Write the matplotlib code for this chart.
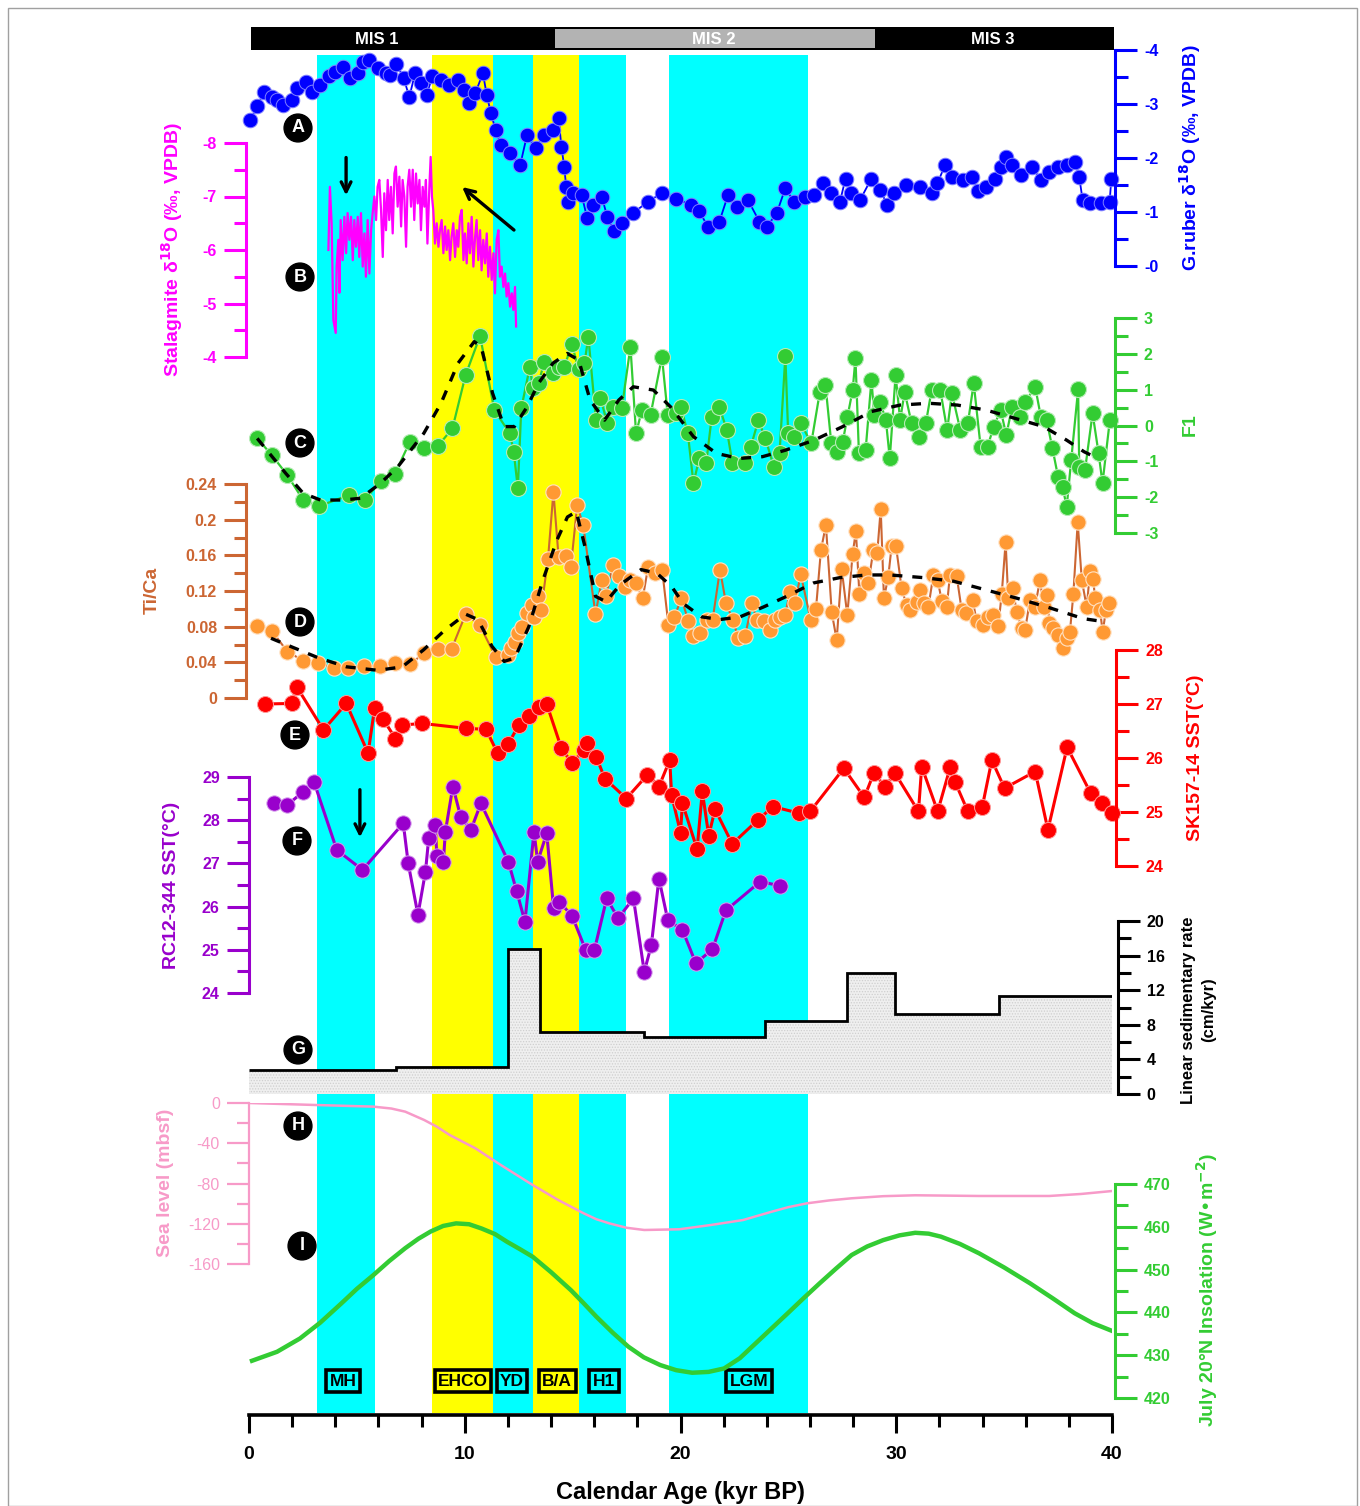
import numpy as np
import matplotlib.pyplot as plt
from matplotlib.patches import Rectangle
from matplotlib.ticker import MultipleLocator

W, H = 1360, 1506
plt.rcParams['font.family'] = ['Liberation Sans', 'DejaVu Sans']
plt.rcParams['font.weight'] = 'bold'
plt.rcParams['hatch.color'] = '#cfcfcf'
plt.rcParams['hatch.linewidth'] = 0.6
NARROW = ['Liberation Sans Narrow', 'Liberation Sans', 'DejaVu Sans']

# ---- climate intervals (kyr BP) ----
cold_bands = [(3.17, 5.84), (11.32, 13.15), (15.31, 17.49), (19.46, 25.92)]
warm_bands = [(8.50, 11.32), (13.15, 15.31)]
mis_edges = [0.1, 14.2, 29.0, 40.1]
mis_names = ['MIS 1', 'MIS 2', 'MIS 3']
mis_label_x = [5.9, 21.55, 34.45]
events = ['MH', 'EHCO', 'YD', 'B/A', 'H1', 'LGM']
event_x = [4.36, 9.92, 12.19, 14.28, 16.45, 23.17]

# ---- A: G. ruber d18O ----
gruber = np.array([
    (0.06, -2.70), (0.38, -2.96), (0.70, -3.23), (1.05, -3.13), (1.31, -3.07), (1.58, -2.98),
    (1.98, -3.07), (2.24, -3.29), (2.64, -3.41), (2.91, -3.23), (3.31, -3.35), (3.71, -3.51),
    (3.97, -3.60), (4.37, -3.69), (4.69, -3.48), (5.04, -3.57), (5.30, -3.78), (5.57, -3.81),
    (5.97, -3.66), (6.37, -3.57), (6.55, -3.54), (6.82, -3.75), (7.17, -3.48), (7.43, -3.13),
    (7.70, -3.57), (7.96, -3.38), (8.23, -3.17), (8.50, -3.51), (8.90, -3.44), (9.29, -3.35),
    (9.69, -3.44), (9.96, -3.26), (10.22, -3.01), (10.49, -3.20), (10.84, -3.57), (11.02, -3.17),
    (11.21, -2.83), (11.43, -2.52), (11.69, -2.24), (12.09, -2.09), (12.57, -1.87), (12.89, -2.43),
    (13.28, -2.18), (13.68, -2.43), (14.08, -2.52), (14.35, -2.74), (14.48, -2.21), (14.61, -1.84),
    (14.70, -1.47), (14.80, -1.19), (15.02, -1.35), (15.42, -1.31), (15.68, -0.88), (15.94, -1.13),
    (16.35, -1.28), (16.61, -0.91), (16.93, -0.64), (17.28, -0.79), (17.81, -0.98), (18.48, -1.19),
    (19.14, -1.35), (19.81, -1.25), (20.47, -1.13), (20.87, -1.01), (21.27, -0.73), (21.80, -0.82),
    (22.20, -1.31), (22.60, -1.10), (23.13, -1.22), (23.66, -0.82), (24.01, -0.73), (24.46, -0.98),
    (24.86, -1.44), (25.26, -1.19), (25.79, -1.28), (26.19, -1.31), (26.59, -1.53), (26.99, -1.35),
    (27.39, -1.19), (27.65, -1.62), (27.92, -1.35), (28.32, -1.22), (28.85, -1.62), (29.25, -1.41),
    (29.59, -1.13), (29.91, -1.35), (30.45, -1.50), (31.11, -1.47), (31.64, -1.35), (31.91, -1.53),
    (32.26, -1.87), (32.58, -1.65), (33.11, -1.59), (33.51, -1.65), (33.78, -1.38), (34.17, -1.47),
    (34.57, -1.62), (34.84, -1.84), (35.10, -2.02), (35.37, -1.87), (35.77, -1.68), (36.30, -1.84),
    (36.70, -1.59), (37.10, -1.75), (37.50, -1.84), (37.90, -1.87), (38.30, -1.93), (38.48, -1.65),
    (38.64, -1.22), (38.96, -1.17), (39.49, -1.17), (39.89, -1.19), (39.97, -1.62)])

# ---- B: stalagmite d18O ----
stalagmite = np.array([
    (3.68, -6.00), (3.75, -7.18), (3.83, -6.50), (3.91, -4.69), (4.02, -4.45), (4.06, -5.69),
    (4.14, -6.19), (4.19, -5.20), (4.25, -6.56), (4.34, -5.81), (4.42, -6.62), (4.50, -5.94),
    (4.57, -6.69), (4.65, -6.19), (4.73, -6.62), (4.81, -5.81), (4.88, -6.56), (4.96, -6.06),
    (5.04, -6.62), (5.11, -5.87), (5.19, -6.69), (5.27, -5.69), (5.35, -6.31), (5.42, -5.50),
    (5.50, -6.56), (5.58, -5.56), (5.66, -6.37), (5.73, -6.69), (5.81, -7.00), (5.89, -6.56),
    (5.96, -7.18), (6.04, -7.31), (6.12, -6.75), (6.20, -5.87), (6.27, -7.06), (6.35, -6.37),
    (6.43, -7.31), (6.50, -6.56), (6.58, -7.18), (6.66, -6.31), (6.74, -7.43), (6.81, -7.56),
    (6.89, -6.81), (6.97, -7.37), (7.05, -6.44), (7.12, -7.31), (7.20, -7.00), (7.28, -6.06),
    (7.35, -7.18), (7.43, -7.50), (7.51, -6.81), (7.59, -7.50), (7.66, -6.56), (7.74, -7.43),
    (7.82, -6.87), (7.90, -7.31), (7.97, -6.37), (8.05, -7.18), (8.13, -6.81), (8.20, -7.31),
    (8.27, -6.12), (8.36, -7.18), (8.42, -7.74), (8.48, -7.00), (8.54, -6.75), (8.62, -6.12),
    (8.70, -6.50), (8.78, -6.06), (8.85, -6.37), (8.93, -6.56), (9.01, -5.94), (9.09, -6.44),
    (9.16, -6.00), (9.24, -6.37), (9.32, -5.81), (9.39, -6.25), (9.47, -6.50), (9.55, -5.87),
    (9.63, -6.37), (9.70, -6.06), (9.78, -6.62), (9.86, -6.75), (9.94, -5.81), (10.01, -6.31),
    (10.09, -5.75), (10.17, -6.50), (10.24, -5.94), (10.32, -6.62), (10.40, -5.69), (10.48, -6.25),
    (10.55, -6.56), (10.63, -5.81), (10.71, -6.37), (10.78, -5.62), (10.86, -6.19), (10.94, -5.75),
    (11.02, -6.31), (11.09, -5.50), (11.17, -6.06), (11.25, -5.44), (11.33, -5.94), (11.40, -5.19),
    (11.48, -6.19), (11.56, -6.37), (11.63, -5.50), (11.71, -5.69), (11.79, -5.31), (11.87, -5.56),
    (11.94, -5.13), (12.02, -5.38), (12.10, -4.94), (12.18, -5.19), (12.25, -4.88), (12.33, -5.31),
    (12.38, -4.57)])

# ---- C: F1 factor scores and trend ----
f1 = np.array([
    (0.38, -0.36), (1.05, -0.82), (1.77, -1.38), (2.51, -2.08), (3.25, -2.25), (4.64, -1.94),
    (5.36, -2.08), (6.10, -1.55), (6.77, -1.34), (7.46, -0.45), (8.10, -0.64), (8.76, -0.57),
    (9.43, -0.08), (10.04, 1.41), (10.71, 2.50), (11.37, 0.43), (12.09, -0.22), (12.27, -0.73),
    (12.46, -1.75), (12.62, 0.48), (13.02, 1.64), (13.15, 1.04), (13.42, 1.18), (13.69, 1.78),
    (14.09, 1.46), (14.35, 1.64), (14.62, 1.64), (14.96, 2.27), (15.28, 1.57), (15.55, 1.74),
    (15.73, 2.48), (16.08, 0.15), (16.29, 0.76), (16.61, 0.06), (16.88, 0.52), (17.28, 0.48),
    (17.68, 2.20), (17.94, -0.22), (18.21, 0.43), (18.61, 0.29), (19.14, 1.92), (19.41, 0.29),
    (19.81, 0.34), (20.02, 0.52), (20.34, -0.22), (20.60, -1.61), (20.87, -0.92), (21.19, -1.06),
    (21.45, 0.25), (21.80, 0.52), (22.15, -0.13), (22.41, -1.06), (23.00, -1.06), (23.26, -0.59),
    (23.61, 0.15), (23.93, -0.36), (24.33, -1.15), (24.59, -0.78), (24.86, 1.94), (24.99, -0.22),
    (25.26, -0.31), (25.58, 0.06), (26.06, -0.50), (26.46, 0.94), (26.72, 1.13), (26.99, -0.50),
    (27.25, -0.73), (27.52, -0.45), (27.74, 0.25), (27.98, 0.99), (28.11, 1.87), (28.27, -0.78),
    (28.58, -0.69), (28.85, 1.27), (28.98, 0.29), (29.25, 0.66), (29.52, 0.15), (29.70, -0.92),
    (29.97, 1.41), (30.18, 0.15), (30.39, 0.94), (30.71, 0.06), (31.06, -0.31), (31.37, 0.06),
    (31.64, 0.99), (32.04, 0.99), (32.36, -0.13), (32.58, 0.90), (32.97, -0.13), (33.32, 0.06),
    (33.59, 1.18), (33.91, -0.59), (34.23, -0.59), (34.52, -0.03), (34.84, 0.43), (35.10, -0.27),
    (35.37, 0.52), (35.72, 0.25), (35.99, 0.66), (36.44, 1.08), (36.70, 0.25), (36.97, 0.15),
    (37.24, -0.64), (37.50, -1.43), (37.71, -1.71), (37.90, -2.27), (38.11, -0.96), (38.43, 1.01),
    (38.48, -1.15), (38.75, -1.24), (39.10, 0.34), (39.38, -0.78), (39.56, -1.61), (39.90, 0.15)])
f1_trend = np.array([
    (0.38, -0.36), (1.71, -1.34), (2.51, -1.89), (3.31, -2.08), (4.37, -2.08), (5.17, -2.03),
    (6.10, -1.61), (6.90, -1.15), (8.10, -0.22), (8.90, 0.62), (9.69, 1.74), (10.44, 2.34),
    (10.76, 2.20), (11.29, 0.90), (11.82, -0.03), (12.30, -0.03), (12.89, 0.52), (13.42, 1.18),
    (14.09, 1.74), (14.75, 2.01), (15.28, 1.83), (15.81, 0.71), (16.48, 0.15), (17.14, 0.71),
    (17.81, 1.08), (18.74, 0.99), (19.54, 0.52), (20.60, -0.31), (21.67, -0.78), (22.73, -0.92),
    (23.80, -0.87), (24.86, -0.69), (26.19, -0.41), (27.52, -0.03), (28.85, 0.39), (30.18, 0.57),
    (31.51, 0.62), (32.84, 0.57), (34.17, 0.43), (35.50, 0.20), (36.83, -0.03), (37.90, -0.41),
    (38.70, -0.73), (39.10, -0.85)])

# ---- D: Ti/Ca ratio and trend ----
tica = np.array([
    (0.37, 0.081), (1.07, 0.075), (1.78, 0.052), (2.50, 0.042), (3.22, 0.039), (3.93, 0.034),
    (4.61, 0.034), (5.33, 0.036), (6.06, 0.036), (6.79, 0.039), (7.48, 0.038), (8.09, 0.050),
    (8.74, 0.055), (9.39, 0.055), (10.04, 0.094), (10.69, 0.082), (11.43, 0.046), (12.00, 0.048),
    (12.16, 0.056), (12.32, 0.063), (12.48, 0.073), (12.65, 0.080), (12.89, 0.095), (13.10, 0.104),
    (13.21, 0.091), (13.38, 0.114), (13.54, 0.099), (13.86, 0.156), (14.11, 0.231), (14.35, 0.158),
    (14.68, 0.159), (14.92, 0.147), (15.21, 0.216), (15.49, 0.194), (16.06, 0.094), (16.35, 0.132),
    (16.55, 0.114), (16.87, 0.149), (17.16, 0.137), (17.44, 0.125), (17.68, 0.132), (17.93, 0.129),
    (18.25, 0.112), (18.50, 0.147), (18.82, 0.140), (19.15, 0.144), (19.44, 0.082), (19.72, 0.091),
    (20.04, 0.112), (20.37, 0.086), (20.60, 0.069), (20.90, 0.073), (21.21, 0.088), (21.49, 0.088),
    (21.83, 0.144), (22.11, 0.106), (22.42, 0.088), (22.68, 0.067), (22.99, 0.069), (23.31, 0.106),
    (23.53, 0.088), (23.87, 0.086), (24.15, 0.076), (24.38, 0.088), (24.61, 0.091), (24.84, 0.093),
    (25.08, 0.119), (25.31, 0.106), (25.57, 0.139), (26.03, 0.088), (26.28, 0.100), (26.51, 0.166),
    (26.74, 0.194), (27.01, 0.096), (27.24, 0.065), (27.47, 0.145), (27.73, 0.093), (27.98, 0.162),
    (28.13, 0.187), (28.29, 0.117), (28.52, 0.140), (28.71, 0.129), (28.94, 0.166), (29.12, 0.163),
    (29.28, 0.212), (29.43, 0.112), (29.63, 0.136), (29.79, 0.171), (29.99, 0.170), (30.25, 0.123),
    (30.48, 0.104), (30.64, 0.099), (30.95, 0.108), (31.10, 0.121), (31.29, 0.106), (31.49, 0.102),
    (31.72, 0.138), (31.92, 0.132), (32.11, 0.109), (32.34, 0.102), (32.49, 0.138), (32.80, 0.137),
    (33.03, 0.099), (33.23, 0.095), (33.54, 0.110), (33.73, 0.086), (34.04, 0.082), (34.27, 0.091),
    (34.50, 0.093), (34.73, 0.081), (34.89, 0.117), (35.07, 0.175), (35.19, 0.112), (35.40, 0.123),
    (35.58, 0.097), (35.81, 0.078), (35.97, 0.076), (36.20, 0.110), (36.43, 0.102), (36.66, 0.132),
    (36.85, 0.102), (37.00, 0.116), (37.09, 0.084), (37.28, 0.078), (37.51, 0.071), (37.71, 0.056),
    (37.90, 0.067), (38.05, 0.074), (38.21, 0.117), (38.41, 0.197), (38.60, 0.132), (38.83, 0.102),
    (38.98, 0.142), (39.13, 0.134), (39.21, 0.112), (39.44, 0.099), (39.57, 0.074), (39.72, 0.099),
    (39.88, 0.106)])
tica_trend = np.array([
    (1.02, 0.067), (1.91, 0.058), (3.22, 0.045), (4.51, 0.035), (5.98, 0.031), (7.11, 0.035),
    (8.09, 0.054), (9.07, 0.076), (10.04, 0.094), (10.61, 0.088), (11.26, 0.058), (11.83, 0.041),
    (12.32, 0.045), (12.97, 0.080), (13.62, 0.132), (14.27, 0.177), (14.76, 0.203), (15.17, 0.209),
    (15.57, 0.170), (16.06, 0.114), (16.55, 0.108), (17.20, 0.127), (18.17, 0.144), (18.90, 0.140),
    (19.59, 0.125), (20.12, 0.106), (20.98, 0.091), (21.83, 0.088), (22.76, 0.091), (23.84, 0.102),
    (24.92, 0.114), (26.16, 0.129), (27.39, 0.135), (28.63, 0.138), (29.71, 0.138), (31.25, 0.135),
    (32.65, 0.131), (34.19, 0.121), (35.58, 0.112), (37.13, 0.101), (38.67, 0.089), (39.52, 0.086)])

# ---- E: SK157-14 SST ----
sk157 = np.array([
    (0.73, 27.00), (1.97, 27.01), (2.21, 27.32), (3.45, 26.52), (4.51, 27.01), (5.52, 26.09),
    (5.82, 26.92), (6.20, 26.73), (6.79, 26.36), (7.09, 26.61), (8.03, 26.64), (10.04, 26.55),
    (10.99, 26.53), (11.52, 26.09), (12.02, 26.26), (12.50, 26.61), (13.00, 26.77), (13.44, 26.95),
    (13.80, 27.00), (14.48, 26.18), (14.98, 25.90), (15.51, 26.15), (15.66, 26.27), (16.10, 26.02),
    (16.49, 25.62), (17.49, 25.25), (18.47, 25.69), (19.00, 25.47), (19.50, 25.96), (19.59, 25.31),
    (20.00, 24.62), (20.09, 25.16), (20.77, 24.31), (21.01, 25.38), (21.31, 24.56), (21.60, 25.05),
    (22.40, 24.41), (23.58, 24.85), (24.29, 25.10), (25.47, 24.98), (26.01, 25.01), (27.57, 25.81),
    (28.52, 25.27), (28.96, 25.72), (29.49, 25.47), (29.94, 25.72), (31.03, 25.01), (31.18, 25.84),
    (31.92, 25.01), (32.51, 25.84), (32.72, 25.56), (33.31, 25.02), (33.99, 25.10), (34.43, 25.96),
    (35.02, 25.44), (36.44, 25.75), (37.03, 24.67), (37.92, 26.20), (39.01, 25.35), (39.55, 25.16),
    (39.99, 24.98)])

# ---- F: RC12-344 SST ----
rc12 = np.array([
    (1.18, 28.39), (1.77, 28.35), (2.51, 28.66), (3.01, 28.89), (4.07, 27.31), (5.26, 26.85),
    (7.15, 27.93), (7.38, 27.00), (7.83, 25.81), (8.18, 26.81), (8.33, 27.58), (8.63, 27.89),
    (8.71, 27.16), (9.01, 27.04), (9.10, 27.73), (9.45, 28.78), (9.81, 28.08), (10.28, 27.77),
    (10.75, 28.39), (12.02, 27.04), (12.41, 26.35), (12.79, 25.65), (13.21, 27.73), (13.38, 27.04),
    (13.80, 27.70), (14.12, 25.96), (14.39, 26.11), (14.98, 25.78), (15.60, 25.00), (16.01, 25.00),
    (16.58, 26.19), (17.11, 25.73), (17.82, 26.19), (18.32, 24.49), (18.65, 25.11), (19.00, 26.65),
    (19.41, 25.69), (20.09, 25.46), (20.71, 24.69), (21.48, 25.01), (22.10, 25.91), (23.70, 26.58),
    (24.62, 26.48)])

# ---- G: linear sedimentation rate (cm/kyr) ----
lsr_edges = [0, 6.8, 12.0, 13.5, 18.3, 23.9, 27.7, 29.95, 34.75, 40]
lsr_rates = [2.8, 3.1, 16.8, 7.2, 6.6, 8.4, 14.0, 9.3, 11.3]

# ---- H: sea level (m) ----
sea_level = np.array([
    (0.0, 0.0), (3.10, -2.0), (5.76, -3.6), (6.60, -5.5), (7.24, -8.6), (8.12, -16.9),
    (8.70, -23.5), (9.30, -31.8), (10.49, -45.0), (11.67, -61.6), (13.15, -81.5), (14.33, -96.4),
    (15.51, -109.6), (16.10, -115.5), (16.70, -119.6), (17.50, -124.0), (18.32, -126.2),
    (19.94, -125.5), (21.42, -121.2), (22.90, -116.3), (24.23, -108.0), (25.00, -103.5),
    (25.86, -99.7), (26.90, -96.8), (27.93, -94.7), (29.40, -92.6), (30.88, -91.7), (33.84, -92.4),
    (37.09, -92.4), (38.57, -90.4), (39.99, -87.5)])

# ---- I: July 20N insolation (W/m2) ----
insolation = np.array([
    (0.14, 428.7), (1.30, 430.8), (2.36, 433.9), (3.30, 437.6), (4.28, 442.1), (5.00, 445.5),
    (5.76, 448.7), (6.50, 452.0), (7.24, 455.0), (7.85, 457.2), (8.42, 458.9), (9.00, 460.2),
    (9.60, 460.8), (10.20, 460.6), (10.78, 459.6), (11.40, 458.3), (11.96, 456.5), (12.55, 454.8),
    (13.15, 453.0), (14.00, 449.4), (14.92, 445.2), (15.50, 442.2), (16.10, 439.0), (16.85, 435.3),
    (17.58, 432.0), (18.30, 429.5), (19.06, 427.7), (19.80, 426.5), (20.54, 425.9), (21.30, 426.1),
    (22.02, 426.9), (22.75, 429.3), (23.49, 432.8), (24.23, 436.3), (24.97, 439.8), (25.70, 443.3),
    (26.45, 446.8), (27.20, 450.2), (27.93, 453.4), (28.65, 455.4), (29.40, 456.9), (30.15, 458.0),
    (30.88, 458.6), (31.50, 458.4), (32.07, 457.7), (32.95, 456.0), (33.84, 453.8), (35.00, 450.5),
    (36.20, 446.8), (37.25, 443.3), (38.27, 439.8), (39.10, 437.5), (39.99, 435.7)])

BLUE = '#0000ff'
MAGENTA = '#ff00ff'
GREEN = '#33cc33'
BROWN = '#cc6633'
ORANGE = '#ff9933'
RED = '#ff0000'
PURPLE = '#9900cc'
PINK = '#f79ac8'

fig = plt.figure(figsize=(W / 100, H / 100), dpi=100)
X0, X1 = 249, 1112


def frame(top, bottom):
    return [X0 / W, 1 - bottom / H, (X1 - X0) / W, (bottom - top) / H]


def panel(top, bottom, vtop, vbottom, side, color, major, minor, labels, outward=0, lw=2.2):
    ax = fig.add_axes(frame(top, bottom))
    ax.set_xlim(0, 40)
    ax.set_ylim(vbottom, vtop)
    ax.patch.set_visible(False)
    for s in ax.spines.values():
        s.set_visible(False)
    sp = ax.spines[side]
    sp.set_visible(True)
    sp.set_color(color)
    sp.set_linewidth(lw)
    sp.set_position(('outward', outward))
    ax.xaxis.set_visible(False)
    if side == 'right':
        ax.yaxis.tick_right()
    ax.set_yticks(major)
    ax.set_yticklabels(labels)
    ax.yaxis.set_minor_locator(MultipleLocator(minor))
    ax.tick_params(axis='y', which='major', length=16, width=lw, color=color,
                   labelcolor=color, labelsize=11.5, pad=5)
    ax.tick_params(axis='y', which='minor', length=9, width=lw, color=color)
    return ax


# base axes: shaded intervals, MIS bar and the age axis
ax0 = fig.add_axes(frame(27, 1415))
ax0.set_xlim(0, 40)
ax0.set_ylim(0, 1)
ax0.patch.set_visible(False)
for s in ['top', 'left', 'right']:
    ax0.spines[s].set_visible(False)
ax0.spines['bottom'].set_linewidth(2.6)
ax0.set_yticks([])
ax0.set_xticks([0, 10, 20, 30, 40])
ax0.xaxis.set_minor_locator(MultipleLocator(2))
ax0.tick_params(axis='x', which='major', length=13, width=2.2, pad=9, labelsize=14)
ax0.tick_params(axis='x', which='minor', length=8.5, width=2.2)
for lbl in ax0.get_xticklabels():
    lbl.set_fontfamily(NARROW)

span_lo, span_hi = 2 / 1388, 1360 / 1388
for a, b in cold_bands:
    ax0.axvspan(a, b, ymin=span_lo, ymax=span_hi, color='#00ffff', lw=0)
for a, b in warm_bands:
    ax0.axvspan(a, b, ymin=span_lo, ymax=span_hi, color='#ffff00', lw=0)

tx = ax0.get_xaxis_transform()
bar_y, bar_h = 1365 / 1388, 23 / 1388
ax0.add_patch(Rectangle((mis_edges[0], bar_y), mis_edges[-1] - mis_edges[0], bar_h,
                        transform=tx, fc='black', ec='none', clip_on=False))
ax0.add_patch(Rectangle((mis_edges[1], bar_y + 2 / 1388), mis_edges[2] - mis_edges[1], bar_h - 4 / 1388,
                        transform=tx, fc='#b3b3b3', ec='none', clip_on=False))
for name, x in zip(mis_names, mis_label_x):
    ax0.text(x, bar_y + bar_h / 2 - 1 / 1388, name, transform=tx, ha='center', va='center',
             color='white', fontsize=12, fontfamily=NARROW, fontweight='bold')

for name, x in zip(events, event_x):
    ax0.text(x, 34 / 1388, name, transform=tx, ha='center', va='center', fontsize=12.5,
             fontfamily=NARROW, fontweight='bold', color='black',
             bbox=dict(boxstyle='square,pad=0.2', fc='none', ec='black', lw=2.6))

# A: G. ruber d18O
axA = panel(50, 266, -4, 0, 'right', BLUE, [0, -1, -2, -3, -4], 0.5,
            ['-0', '-1', '-2', '-3', '-4'], outward=2)
axA.plot(gruber[:, 0], gruber[:, 1], color=BLUE, lw=1.3, marker='o', ms=10.5,
         mfc=BLUE, mec='#8080ff', mew=0.7, clip_on=False)

# B: stalagmite d18O
axB = panel(143, 357, -8, -4, 'left', MAGENTA, [-4, -5, -6, -7, -8], 0.5,
            ['-4', '-5', '-6', '-7', '-8'], outward=2)
axB.plot(stalagmite[:, 0], stalagmite[:, 1], color=MAGENTA, lw=1.6, clip_on=False)
axB.annotate('', xy=(4.5, -6.97), xytext=(4.5, -7.78),
             arrowprops=dict(arrowstyle='->,head_length=0.7,head_width=0.35', color='black', lw=2.4))
axB.annotate('', xy=(9.78, -7.21), xytext=(12.38, -6.34),
             arrowprops=dict(arrowstyle='->,head_length=0.7,head_width=0.35', color='black', lw=2.4))

# C: F1
axC = panel(318, 533, 3, -3, 'right', GREEN, [-3, -2, -1, 0, 1, 2, 3], 0.5,
            ['-3', '-2', '-1', '0', '1', '2', '3'], outward=2)
axC.plot(f1[:, 0], f1[:, 1], color=GREEN, lw=1.6, marker='o', ms=11.5,
         mfc=GREEN, mec='#b5ecb5', mew=0.8, clip_on=False)
axC.plot(f1_trend[:, 0], f1_trend[:, 1], color='black', lw=2.4, ls=(0, (3, 3)), zorder=5)

# D: Ti/Ca
axD = panel(484, 698, 0.24, 0, 'left', BROWN, [0, 0.04, 0.08, 0.12, 0.16, 0.2, 0.24], 0.02,
            ['0', '0.04', '0.08', '0.12', '0.16', '0.2', '0.24'], outward=2)
axD.plot(tica[:, 0], tica[:, 1], color=BROWN, lw=1.5, marker='o', ms=11,
         mfc=ORANGE, mec='#ffe2c4', mew=0.8, clip_on=False)
axD.plot(tica_trend[:, 0], tica_trend[:, 1], color='black', lw=2.4, ls=(0, (3, 3)), zorder=5)

# E: SK157-14 SST
axE = panel(650, 866, 28, 24, 'right', RED, [24, 25, 26, 27, 28], 0.5,
            ['24', '25', '26', '27', '28'], outward=3)
axE.plot(sk157[:, 0], sk157[:, 1], color=RED, lw=2.2, marker='o', ms=11.5,
         mfc=RED, mec='#ff9a9a', mew=0.7, clip_on=False)

# F: RC12-344 SST
axF = panel(777, 993, 29, 24, 'left', PURPLE, [24, 25, 26, 27, 28, 29], 0.5,
            ['24', '25', '26', '27', '28', '29'], outward=0)
axF.plot(rc12[:, 0], rc12[:, 1], color=PURPLE, lw=2.2, marker='o', ms=11,
         mfc=PURPLE, mec='#d49aec', mew=0.7, clip_on=False)
axF.annotate('', xy=(5.14, 27.54), xytext=(5.14, 28.77),
             arrowprops=dict(arrowstyle='->,head_length=0.7,head_width=0.35', color='black', lw=2.4))

# G: linear sedimentation rate
axG = panel(921, 1094, 20, 0, 'right', 'black', [0, 4, 8, 12, 16, 20], 2,
            ['0', '4', '8', '12', '16', '20'], outward=4)
axG.stairs(lsr_rates, lsr_edges, baseline=0, fill=True, facecolor='#efefef',
           hatch='......', edgecolor='#cfcfcf', lw=0)
axG.stairs(lsr_rates, lsr_edges, baseline=None, color='black', lw=2.0)

# H: sea level
axH = panel(1103, 1264, 0, -160, 'left', PINK, [0, -40, -80, -120, -160], 20,
            ['0', '-40', '-80', '-120', '-160'], outward=0, lw=1.6)
for lbl in axH.get_yticklabels():
    lbl.set_fontweight('normal')
axH.plot(sea_level[:, 0], sea_level[:, 1], color=PINK, lw=1.8)

# I: insolation
axI = panel(1184, 1398, 470, 420, 'right', GREEN, [420, 430, 440, 450, 460, 470], 5,
            ['420', '430', '440', '450', '460', '470'], outward=2)
axI.plot(insolation[:, 0], insolation[:, 1], color=GREEN, lw=3.2)


# axis titles
def ytitle(x, y, text, color, size=14):
    fig.text(x / W, 1 - y / H, text, rotation=90, ha='center', va='center',
             color=color, fontsize=size, fontweight='bold')


ytitle(1190, 158, r'G.ruber δ$^{18}$O (‰, VPDB)', BLUE)
ytitle(172, 250, r'Stalagmite δ$^{18}$O (‰, VPDB)', MAGENTA)
ytitle(1190, 425, 'F1', GREEN)
ytitle(152, 590, 'Ti/Ca', BROWN)
ytitle(1196, 758, 'SK157-14 SST(°C)', RED)
ytitle(172, 885, 'RC12-344 SST(°C)', PURPLE)
ytitle(1188, 1010, 'Linear sedimentary rate', 'black', 12)
ytitle(1209, 1010, '(cm/kyr)', 'black', 12)
ytitle(165, 1183, 'Sea level (mbsf)', PINK)
ytitle(1207, 1290, r'July 20°N Insolation (W•m$^{-2}$)', GREEN)
fig.text(680 / W, 1 - 1492 / H, 'Calendar Age (kyr BP)', ha='center', va='center',
         fontsize=17, fontfamily=NARROW, fontweight='bold')

# panel letters
letters = ['A', 'B', 'C', 'D', 'E', 'F', 'G', 'H', 'I']
letter_xy = [(298, 128), (300, 277), (300, 443), (300, 622), (295, 735),
             (297, 841), (298, 1050), (298, 1126), (302, 1246)]
for ch, (x, y) in zip(letters, letter_xy):
    fig.text(x / W, 1 - y / H, ch, ha='center', va='center', color='white',
             fontsize=13, fontweight='bold',
             bbox=dict(boxstyle='circle,pad=0.3', fc='black', ec='black'))

fig.patches.append(Rectangle((8 / W, 0), 1349 / W, 1 - 8 / H, transform=fig.transFigure,
                             fill=False, ec='#a0a0a0', lw=1))

fig.savefig('out.png', dpi=100)
